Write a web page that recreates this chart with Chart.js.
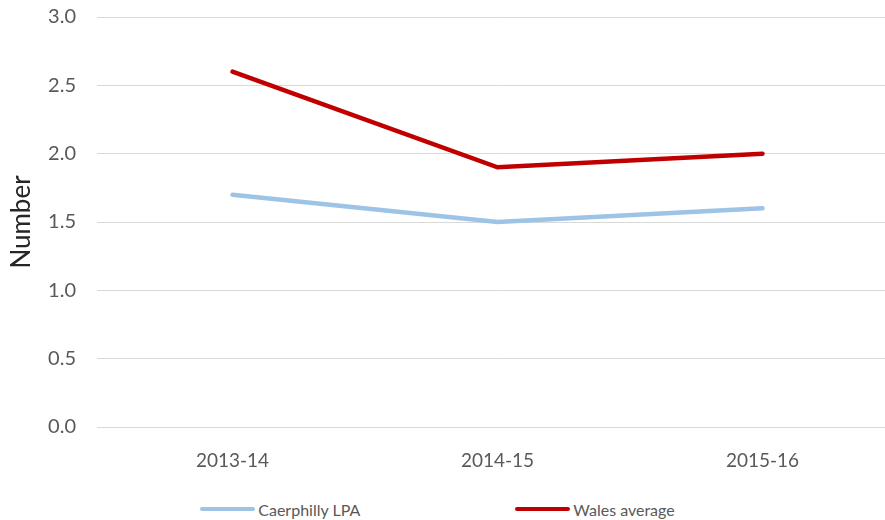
<!DOCTYPE html>
<html>
<head>
<meta charset="utf-8">
<script src="https://cdn.jsdelivr.net/npm/chart.js@4/dist/chart.umd.min.js"></script>
<style>
  html, body { margin: 0; padding: 0; background: #fff; overflow: hidden; }
  #wrap { position: relative; width: 885px; height: 520px; overflow: hidden; }
  #box { width: 895px; height: 490px; }
  #legend { width: 875px; padding-right: 10px; display: flex; justify-content: center; gap: 155px; height: 38px; align-items: center;
            font-family: Lato, "Liberation Sans", sans-serif; font-size: 16px; color: #595959; }
  .item { display: flex; align-items: center; }
  .swatch { width: 55px; height: 4px; border-radius: 2px; margin-right: 3px; }
</style>
</head>
<body>
<div id="wrap">
  <div id="box"><canvas id="chart"></canvas></div>
  <div id="legend"></div>
</div>
<script>
const years = ['2013-14', '2014-15', '2015-16'];
const seriesNames = ['Caerphilly LPA', 'Wales average'];
const caerphilly = [1.7, 1.5, 1.6];
const walesAvg = [2.6, 1.9, 2.0];
const colours = ['#9dc3e6', '#c00000'];

const font = "Lato, 'Liberation Sans', sans-serif";

const chart = new Chart(document.getElementById('chart'), {
  type: 'line',
  data: {
    labels: years,
    datasets: [
      { label: seriesNames[0], data: caerphilly, borderColor: colours[0], backgroundColor: colours[0] },
      { label: seriesNames[1], data: walesAvg, borderColor: colours[1], backgroundColor: colours[1] }
    ]
  },
  options: {
    responsive: true,
    maintainAspectRatio: false,
    animation: false,
    layout: { padding: { top: 17, right: 0, bottom: 17, left: 0 } },
    elements: {
      line: { borderWidth: 4.5, tension: 0, borderCapStyle: 'round' },
      point: { radius: 0, hoverRadius: 0 }
    },
    plugins: {
      legend: { display: false },
      tooltip: { enabled: false }
    },
    scales: {
      x: {
        offset: true,
        grid: { display: false, drawTicks: false },
        border: { display: false },
        ticks: { color: '#595959', font: { family: font, size: 19 }, padding: 22, maxRotation: 0 },
        afterFit: s => { s.height = 46; s.paddingLeft = 0; s.paddingRight = 0; }
      },
      y: {
        min: 0,
        max: 3,
        border: { display: false },
        grid: { color: '#d9d9d9', lineWidth: 1, drawTicks: true, tickLength: 3, tickColor: '#d9d9d9' },
        ticks: {
          stepSize: 0.5,
          color: '#595959',
          font: { family: font, size: 20 },
          padding: 21,
          callback: v => v.toFixed(1)
        },
        title: { display: true, text: 'Number', color: '#262626', font: { family: font, size: 26 }, padding: 6 },
        afterFit: s => { s.width = 100; s.paddingTop = 0; s.paddingBottom = 0; }
      }
    }
  }
});

// legend below the chart, built from the datasets
const legend = document.getElementById('legend');
chart.data.datasets.forEach(ds => {
  const item = document.createElement('div');
  item.className = 'item';
  const sw = document.createElement('span');
  sw.className = 'swatch';
  sw.style.background = ds.borderColor;
  const txt = document.createElement('span');
  txt.textContent = ds.label;
  item.appendChild(sw);
  item.appendChild(txt);
  legend.appendChild(item);
});
</script>
</body>
</html>
